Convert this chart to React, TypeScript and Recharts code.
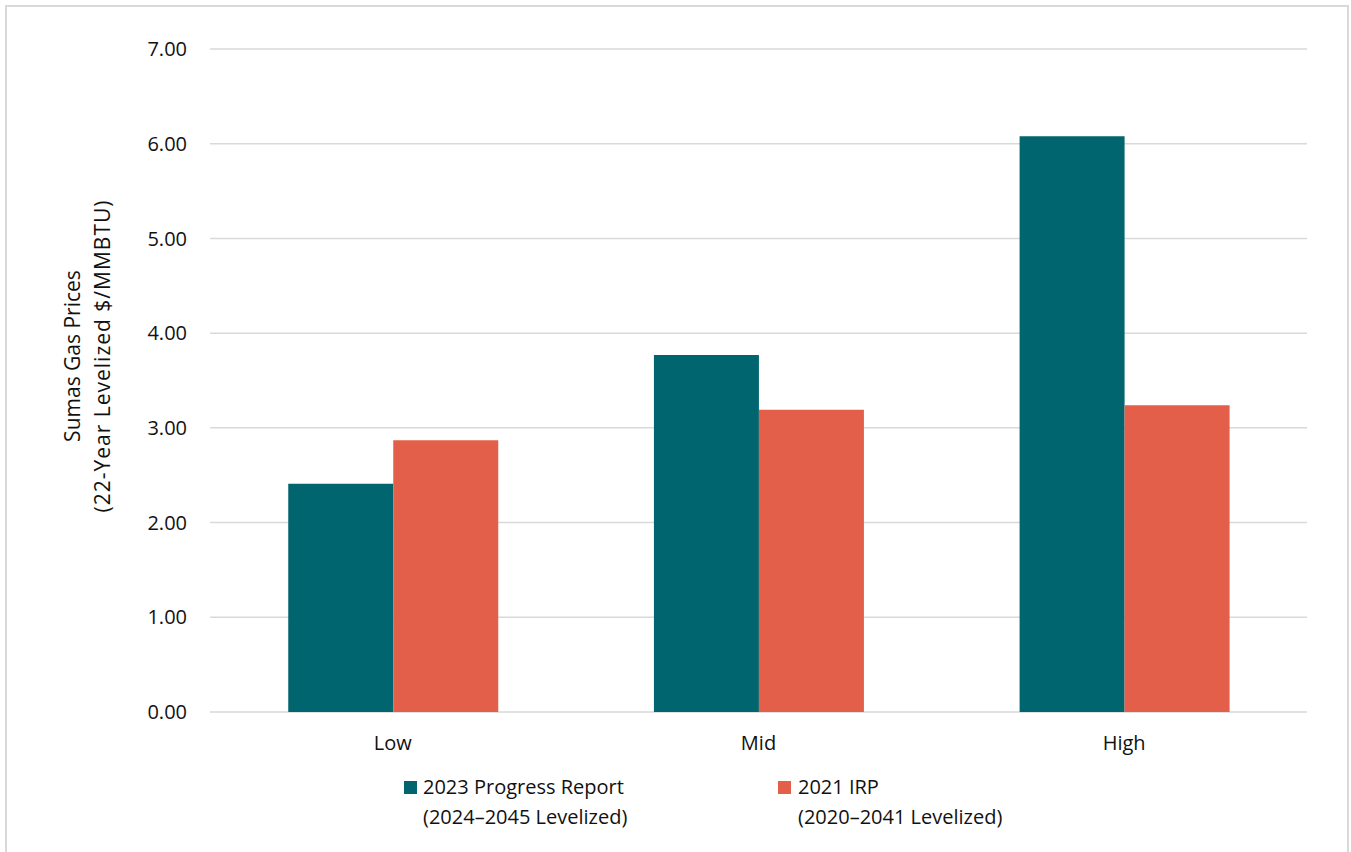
import React from 'react';
import { BarChart, Bar, XAxis, YAxis, CartesianGrid, Legend } from 'recharts';

const categories = ['Low', 'Mid', 'High'];
const progress2023 = [2.41, 3.77, 6.08];
const irp2021 = [2.87, 3.19, 3.24];
const yTicks = [0, 1, 2, 3, 4, 5, 6, 7];
const seriesKeys = ['progress', 'irp'];
const seriesNames = ['2023 Progress Report', '2021 IRP'];
const seriesSubtitles = ['(2024–2045 Levelized)', '(2020–2041 Levelized)'];
const seriesColors = ['#00656E', '#E35F4A'];
const yLabelLines = ['Sumas Gas Prices', '(22-Year Levelized $/MMBTU)'];

const data = categories.map((name, i) => ({
  name,
  progress: progress2023[i],
  irp: irp2021[i],
}));

const FONT = "'Open Sans', sans-serif";
const TEXT = '#111111';

const legendPos = [
  { sq: 404, tx: 423 },
  { sq: 778, tx: 798 },
];

const LegendContent = () => (
  <div style={{ position: 'relative', width: 1351, height: 0 }}>
    {seriesKeys.map((k, i) => (
      <React.Fragment key={k}>
        <div
          style={{
            position: 'absolute',
            left: legendPos[i].sq,
            top: 781,
            width: 13,
            height: 13,
            background: seriesColors[i],
          }}
        />
        <div
          style={{
            position: 'absolute',
            left: legendPos[i].tx,
            top: 772,
            fontFamily: FONT,
            fontSize: 20,
            lineHeight: '30px',
            color: TEXT,
            whiteSpace: 'nowrap',
            textAlign: 'left',
          }}
        >
          <div>{seriesNames[i]}</div>
          <div>{seriesSubtitles[i]}</div>
        </div>
      </React.Fragment>
    ))}
  </div>
);

const YLabel = () => (
  <g>
    <text
      x={80}
      y={356}
      transform="rotate(-90, 80, 356)"
      textAnchor="middle"
      fontFamily={FONT}
      fontSize={21}
      fill={TEXT}
    >
      {yLabelLines[0]}
    </text>
    <text
      x={110}
      y={356}
      transform="rotate(-90, 110, 356)"
      textAnchor="middle"
      fontFamily={FONT}
      fontSize={21}
      letterSpacing={1}
      fill={TEXT}
    >
      {yLabelLines[1]}
    </text>
  </g>
);

export default function App() {
  return (
    <div
      style={{
        position: 'absolute',
        left: 0,
        top: 0,
        width: 1351,
        height: 852,
        background: '#ffffff',
        overflow: 'hidden',
      }}
    >
      <div
        style={{
          position: 'absolute',
          left: 5,
          top: 5,
          width: 1344,
          height: 900,
          border: '2px solid #d9d9d9',
          boxSizing: 'border-box',
        }}
      />
      <div style={{ position: 'absolute', left: 0, top: 0 }}>
        <BarChart
          width={1351}
          height={852}
          data={data}
          margin={{ top: 49, right: 44, bottom: 110, left: 0 }}
          barCategoryGap="21.4%"
          barGap={0}
          style={{ fontFamily: FONT }}
        >
          <CartesianGrid vertical={false} stroke="#d9d9d9" strokeWidth={1.5} />
          <XAxis
            dataKey="name"
            height={30}
            axisLine={false}
            tickLine={false}
            tickMargin={18}
            tick={{ fill: TEXT, fontSize: 20, fontFamily: FONT }}
          />
          <YAxis
            width={210}
            domain={[0, 7]}
            ticks={yTicks}
            interval={0}
            axisLine={false}
            tickLine={false}
            tickMargin={17}
            tickFormatter={(v: number) => v.toFixed(2)}
            tick={{ fill: TEXT, fontSize: 20, fontFamily: FONT }}
            label={<YLabel />}
          />
          <Legend
            layout="horizontal"
            verticalAlign="middle"
            align="center"
            content={<LegendContent />}
            wrapperStyle={{ left: 0, top: 0, width: 1351, height: 0 }}
          />
          <Bar
            dataKey="progress"
            name={seriesNames[0]}
            fill={seriesColors[0]}
            isAnimationActive={false}
          />
          <Bar
            dataKey="irp"
            name={seriesNames[1]}
            fill={seriesColors[1]}
            isAnimationActive={false}
          />
        </BarChart>
      </div>
    </div>
  );
}
